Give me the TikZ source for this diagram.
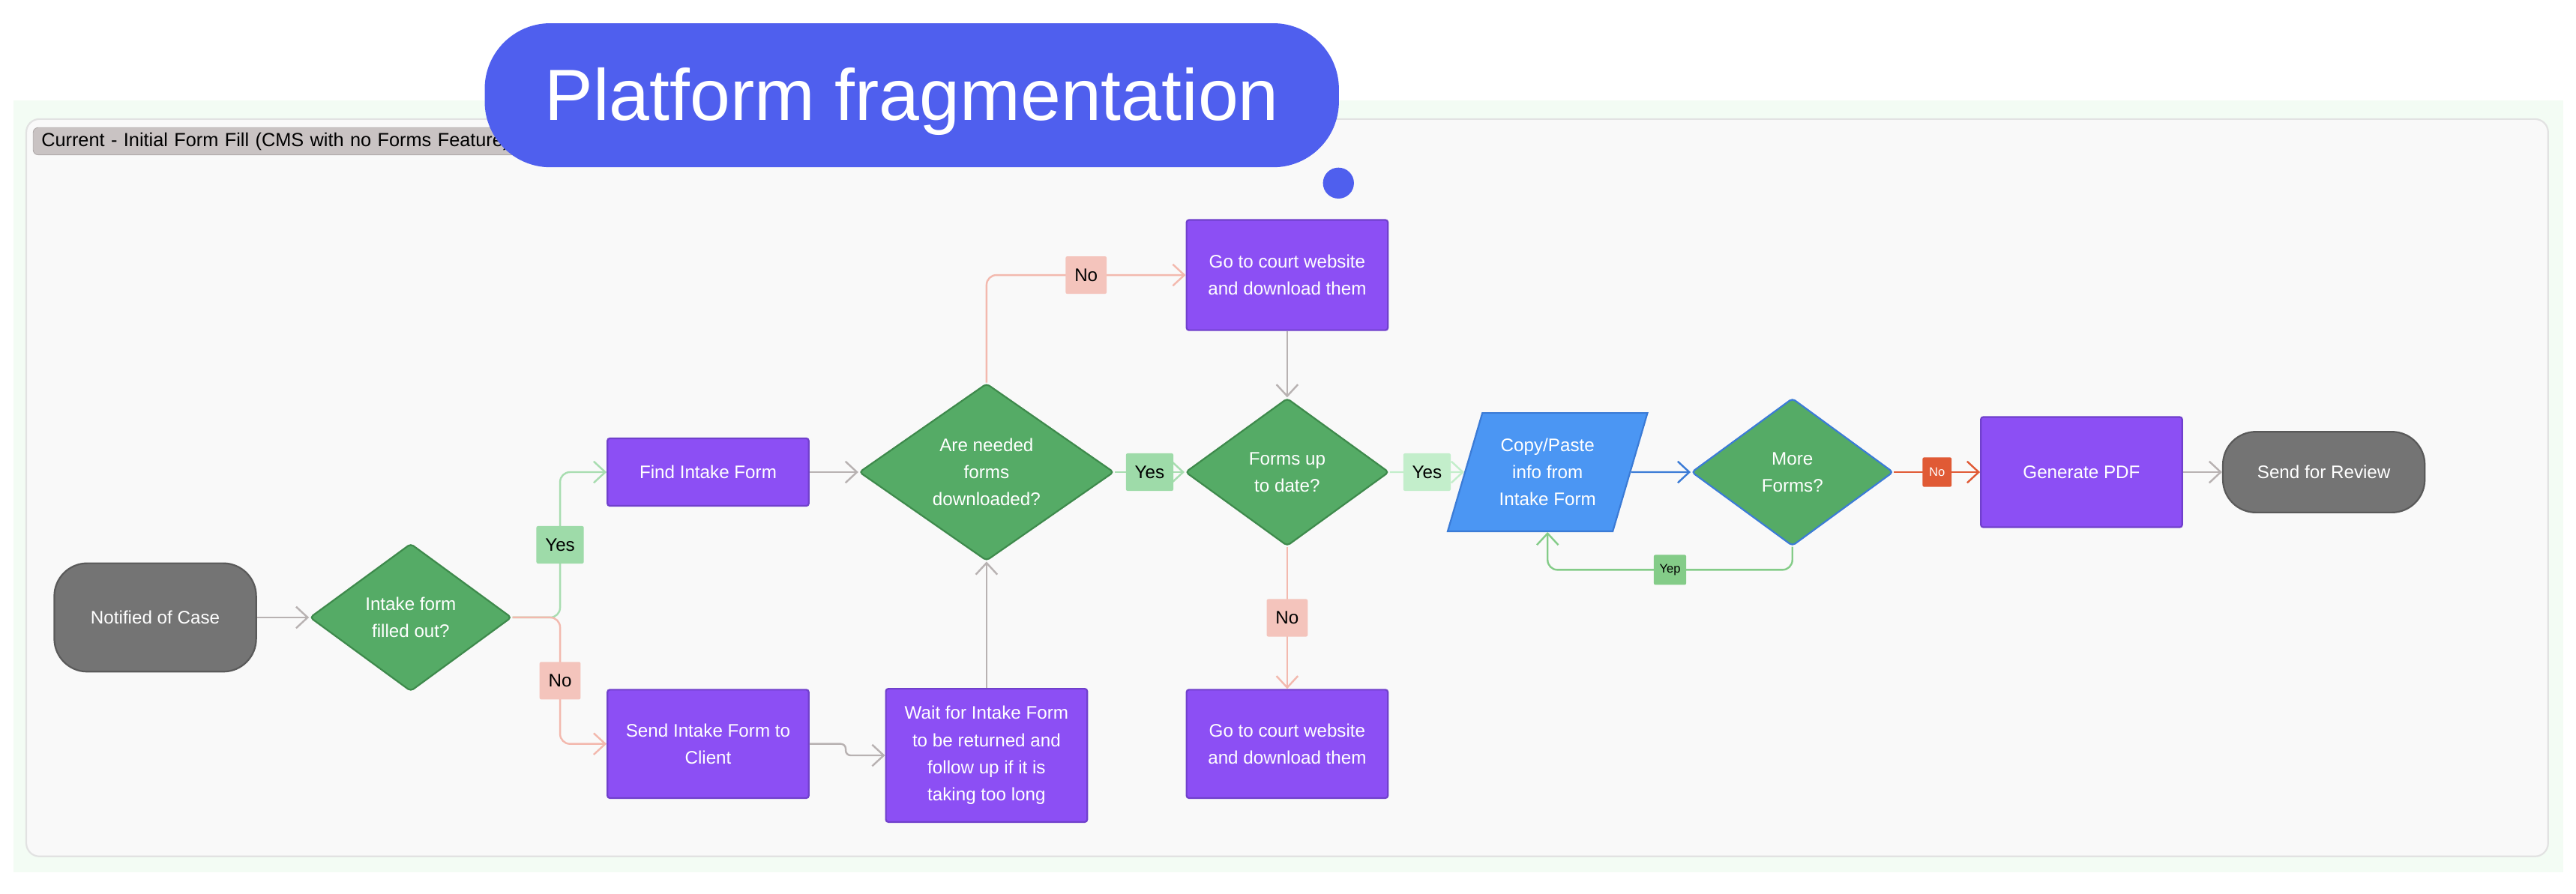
\documentclass[tikz,border=0pt]{standalone}
\usepackage{fontspec}
\setmainfont{Liberation Sans}
\usetikzlibrary{shapes.geometric,arrows.meta}
\definecolor{outerbg}{HTML}{F3FCF4}
\definecolor{panelbg}{HTML}{F9F9F9}
\definecolor{paneledge}{HTML}{E2E2E2}
\definecolor{tagfill}{HTML}{C9C3C3}
\definecolor{tagedge}{HTML}{B0AAAA}
\definecolor{titleblue}{HTML}{4F5FEE}
\definecolor{procfill}{HTML}{8C4FF4}
\definecolor{procedge}{HTML}{7040CC}
\definecolor{decfill}{HTML}{55AB66}
\definecolor{decedge}{HTML}{3E8A4C}
\definecolor{termfill}{HTML}{747474}
\definecolor{termedge}{HTML}{5A5A5A}
\definecolor{datafill}{HTML}{4B96F3}
\definecolor{dataedge}{HTML}{3B7BD6}
\definecolor{flowgray}{HTML}{B8B2B2}
\definecolor{yesline}{HTML}{A8DDB0}
\definecolor{yesfill}{HTML}{9EDBA9}
\definecolor{paleyes}{HTML}{C3EECB}
\definecolor{noline}{HTML}{F3B9AE}
\definecolor{nofill}{HTML}{F4C4BC}
\definecolor{redno}{HTML}{E05A35}
\definecolor{yepgreen}{HTML}{84CC88}
\tikzset{
  txt/.style={text=white, font=\fontsize{11}{16.5}\selectfont, align=center, line width=1pt},
  process/.style={txt, rectangle, rounded corners=1.5pt, fill=procfill, draw=procedge, minimum width=4.29cm},
  decision/.style={txt, diamond, aspect=1.4, inner sep=0pt, rounded corners=2pt, fill=decfill, draw=decedge},
  terminal/.style={txt, rectangle, rounded corners=0.7cm, fill=termfill, draw=termedge, minimum width=4.3cm},
  data/.style={txt, trapezium, trapezium left angle=70, trapezium right angle=110, trapezium stretches=true, fill=datafill, draw=dataedge, minimum width=4.3cm, minimum height=2.52cm},
  flow/.style={line width=1.1pt, draw=flowgray, -{Straight Barb[length=7pt,width=13pt]}, rounded corners=6pt},
  yesflow/.style={flow, draw=yesline},
  paleflow/.style={flow, draw=paleyes},
  noflow/.style={flow, draw=noline},
  redflow/.style={flow, draw=redno},
  blueflow/.style={flow, draw=dataedge},
  yepflow/.style={flow, draw=yepgreen},
  lbl/.style={font=\fontsize{11}{13}\selectfont, text=black, inner xsep=5.4pt, minimum height=0.8cm, rounded corners=1pt},
  yeslabel/.style={lbl, fill=yesfill},
  palelabel/.style={lbl, fill=paleyes},
  nolabel/.style={lbl, fill=nofill},
  smallno/.style={font=\fontsize{7.5}{9}\selectfont, text=white, fill=redno, inner xsep=4pt, minimum height=0.63cm, rounded corners=1pt},
  yeplabel/.style={font=\fontsize{7.5}{9}\selectfont, text=black, fill=yepgreen, inner xsep=3.5pt, minimum height=0.64cm, rounded corners=1pt},
}
\begin{document}
\begin{tikzpicture}[x=0.035cm,y=-0.035cm]
\useasboundingbox (0,0) rectangle (1568,544);
\fill[outerbg] (8,61) rectangle (1560,531);
\draw[paneledge, fill=panelbg, line width=1pt, rounded corners=8pt] (16,72.5) rectangle (1551,521.5);
\node[anchor=west, fill=tagfill, draw=tagedge, rounded corners=3pt, text width=10.15cm, align=left, inner xsep=5pt, inner ysep=1pt, minimum height=0.58cm, font=\fontsize{11.5}{13}\selectfont] (tag) at (20,86) {Current - Initial Form Fill (CMS with no Forms Feature)};
\node[fill=titleblue, text=white, rounded corners=1.4cm, minimum width=18.2cm, minimum height=3.07cm, font=\fontsize{44}{50}\selectfont, text height=31pt, text depth=1pt] (title) at (555,58) {Platform fragmentation};
\fill[titleblue] (814.7,111.5) circle (0.33cm);

\node[terminal, minimum height=2.31cm] (notified) at (94.5,376) {Notified of Case};
\node[decision, minimum width=4.3cm, minimum height=3.15cm] (intake) at (250,376) {Intake form\\filled out?};
\node[process, minimum height=1.44cm] (find) at (431,287.5) {Find Intake Form};
\node[process, minimum height=2.31cm] (send) at (431,453) {Send Intake Form to\\Client};
\node[process, minimum height=2.84cm] (wait) at (600.5,460) {Wait for Intake Form\\to be returned and\\follow up if it is\\taking too long};
\node[decision, minimum width=5.43cm, minimum height=3.78cm] (needed) at (600.5,287.5) {Are needed\\forms\\downloaded?};
\node[process, minimum height=2.35cm] (courttop) at (783.5,167.5) {Go to court website\\and download them};
\node[decision, minimum width=4.34cm, minimum height=3.15cm] (uptodate) at (783.5,287.5) {Forms up\\to date?};
\node[process, minimum height=2.31cm] (courtbottom) at (783.5,453) {Go to court website\\and download them};
\node[data] (copy) at (942,287.5) {Copy/Paste\\info from\\Intake Form};
\node[decision, draw=dataedge, minimum width=4.3cm, minimum height=3.15cm] (more) at (1091,287.5) {More\\Forms?};
\node[process, minimum height=2.35cm] (generate) at (1267,287.5) {Generate PDF};
\node[terminal, minimum height=1.72cm] (review) at (1414.5,287.5) {Send for Review};

\draw[flow] (notified) -- (intake);
\draw[yesflow] (intake.east) -- ++(29,0) |- node[yeslabel,pos=0.25]{Yes} (find);
\draw[noflow] (intake.east) -- ++(29,0) |- node[nolabel,pos=0.25]{No} (send);
\draw[flow] (find) -- (needed);
\draw[flow, rounded corners=3pt] (send.east) -- ++(22,0) |- (wait);
\draw[flow] (wait) -- (needed);
\draw[noflow] (needed.north) |- node[nolabel,pos=0.75]{No} (courttop);
\draw[yesflow] (needed) -- node[yeslabel]{Yes} (uptodate);
\draw[flow] (courttop) -- (uptodate);
\draw[noflow] (uptodate) -- node[nolabel]{No} (courtbottom);
\draw[paleflow] (uptodate) -- node[palelabel]{Yes} (copy);
\draw[blueflow] (copy) -- (more);
\draw[redflow] (more) -- node[smallno]{No} (generate);
\draw[flow] (generate) -- (review);
\draw[yepflow] (more.south) -- ++(0,14) -| node[yeplabel,pos=0.25]{Yep} (copy.south);
\end{tikzpicture}
\end{document}
